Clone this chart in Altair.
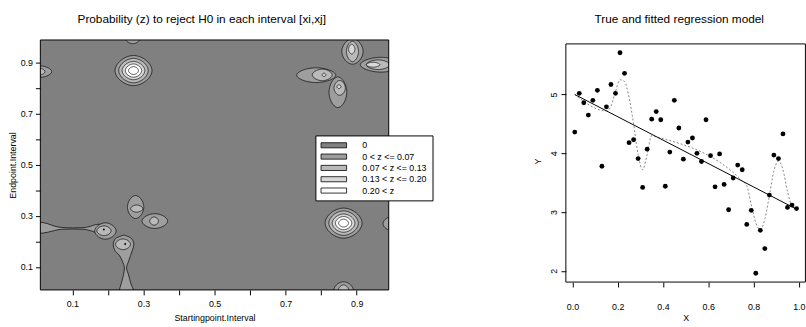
import altair as alt
import numpy as np
import pandas as pd

FONT = "Liberation Sans"

# ---------------- left panel : contour regions ----------------
LEVELS = ["0", "0 < z <= 0.07", "0.07 < z <= 0.13", "0.13 < z <= 0.20", "0.20 < z"]
LEVEL_COLORS = ["#808080", "#9e9e9e", "#bababa", "#d8d8d8", "#ffffff"]

grid_lo = 0.01
grid_hi = 0.99

# elliptical contour rings (centre, half-width, half-height, level index)
ring_cx = [0.272, 0.272, 0.272, 0.272, 0.272,
           0.863, 0.863, 0.863, 0.863, 0.863,
           0.270,
           0.006, 0.006,
           0.888, 0.888, 0.886,
           0.968, 0.960, 0.946,
           0.786, 0.803, 0.808,
           0.847, 0.852, 0.850,
           0.996,
           0.863, 0.863,
           0.278, 0.281,
           0.332, 0.330,
           0.193, 0.189,
           0.2425]
ring_cy = [0.870] * 5 + [0.272] * 5 + [0.9975] + [0.866] * 2 + [0.945, 0.945, 0.954] + \
          [0.893] * 3 + [0.852, 0.853, 0.853] + [0.785, 0.802, 0.807] + [0.270] + \
          [0.007] * 2 + [0.335, 0.329] + [0.280, 0.280] + [0.241, 0.242] + [0.189]
ring_rx = [0.052, 0.0415, 0.032, 0.023, 0.014] * 2 + [0.021] + [0.036, 0.017] + \
          [0.030, 0.017, 0.009] + [0.058, 0.033, 0.019] + [0.055, 0.028, 0.005] + \
          [0.025, 0.016, 0.0055] + [0.022] + [0.028, 0.015] + [0.023, 0.017] + \
          [0.036, 0.0124] + [0.030, 0.020] + [0.021]
ring_ry = [0.059, 0.048, 0.036, 0.026, 0.0155] * 2 + [0.022] + [0.023, 0.0135] + \
          [0.050, 0.040, 0.019] + [0.029, 0.019, 0.0097] + [0.029, 0.0226, 0.0066] + \
          [0.060, 0.029, 0.0077] + [0.026] + [0.035, 0.023] + [0.045, 0.014] + \
          [0.029, 0.016] + [0.032, 0.019] + [0.021]
ring_level = [1, 2, 3, 4, 4] * 2 + [1] + [1, 2] + [1, 2, 3] + [1, 2, 3] + [1, 2, 3] + \
             [1, 2, 3] + [1] + [1, 2] + [1, 2] + [1, 2] + [1, 2] + [2]

# band running in from the left edge (x, lower y, upper y)
band_x = [0.005, 0.03, 0.05, 0.07, 0.10, 0.13, 0.15, 0.165, 0.178]
band_lo = [0.231, 0.236, 0.243, 0.248, 0.249, 0.248, 0.243, 0.236, 0.232]
band_hi = [0.277, 0.270, 0.260, 0.255, 0.253, 0.254, 0.259, 0.266, 0.268]

# hour-glass region rising from the bottom edge (y, left x, right x)
hg_y = [0.004, 0.038, 0.070, 0.096, 0.122, 0.146, 0.166, 0.189, 0.212, 0.222, 0.225]
hg_xl = [0.231, 0.238, 0.244, 0.2465, 0.241, 0.232, 0.219, 0.215, 0.222, 0.238, 0.2445]
hg_xr = [0.274, 0.264, 0.258, 0.2525, 0.258, 0.264, 0.269, 0.273, 0.266, 0.252, 0.2455]

# local maxima marked with a dot
dot_x = [0.1886, 0.2486]
dot_y = [0.247, 0.190]

# ---------------- right panel : regression ----------------
obs_x = [0.01, 0.03, 0.05, 0.07, 0.09, 0.11, 0.13, 0.15, 0.17, 0.19,
         0.21, 0.23, 0.25, 0.27, 0.29, 0.31, 0.33, 0.35, 0.37, 0.39,
         0.41, 0.43, 0.45, 0.47, 0.49, 0.51, 0.53, 0.55, 0.57, 0.59,
         0.61, 0.63, 0.65, 0.67, 0.69, 0.71, 0.73, 0.75, 0.77, 0.79,
         0.81, 0.83, 0.85, 0.87, 0.89, 0.91, 0.93, 0.95, 0.97, 0.99]
obs_y = [4.36, 5.02, 4.86, 4.65, 4.90, 5.07, 3.78, 4.79, 5.17, 5.02,
         5.71, 5.36, 4.18, 4.23, 3.91, 3.42, 4.07, 4.58, 4.71, 4.57,
         3.44, 4.02, 4.90, 4.43, 3.90, 4.19, 4.26, 4.00, 3.86, 4.57,
         3.96, 3.43, 3.99, 3.47, 3.04, 3.58, 3.80, 3.72, 2.79, 3.03,
         1.96, 2.69, 2.38, 3.29, 3.97, 3.91, 4.33, 3.08, 3.12, 3.06]

true_x = [0.01, 0.99]
true_y = [5.00, 3.05]

fit_x = [0.01, 0.15, 0.17, 0.19, 0.21, 0.23, 0.25, 0.27, 0.29, 0.31, 0.33, 0.35, 0.37,
         0.75, 0.77, 0.79, 0.81, 0.83, 0.85, 0.87, 0.89, 0.91, 0.93, 0.95, 0.97, 0.99]
fit_y = [5.00, 4.72, 4.80, 5.05, 5.25, 5.22, 4.95, 4.50, 3.98, 3.72, 3.98, 4.30, 4.28,
         3.53, 3.45, 3.12, 2.82, 2.70, 2.88, 3.28, 3.70, 3.87, 3.72, 3.35, 3.10, 3.05]

# box of the regression panel (R's 4 % extended data range)
box_x = [-0.0292, 1.0292]
box_y = [1.81, 5.86]

# ---------------- build left panel ----------------
P = 1.8
theta = np.linspace(np.pi, 0, 61)
ex = np.sign(np.cos(theta)) * np.abs(np.cos(theta)) ** (2 / P)
ey = np.abs(np.sin(theta)) ** (2 / P)
rows = []
for i in range(len(ring_cx)):
    for k in range(len(theta)):
        rows.append({
            "ring": i,
            "lv": ring_level[i],
            "level": LEVELS[ring_level[i]],
            "x": ring_cx[i] + ring_rx[i] * ex[k],
            "y": ring_cy[i] - ring_ry[i] * ey[k],
            "y2": ring_cy[i] + ring_ry[i] * ey[k],
        })
rings = pd.DataFrame(rows)

xs_left = alt.Scale(domain=[grid_lo, grid_hi], nice=False, zero=False)
ys_left = alt.Scale(domain=[grid_lo, grid_hi], nice=False, zero=False)
fill_scale = alt.Scale(domain=LEVELS, range=LEVEL_COLORS)
legend = alt.Legend(
    orient="none", legendX=279.5, legendY=97, title=None,
    symbolType="M-3,-0.6H3V0.6H-3Z", symbolSize=75,
    symbolStrokeColor="black", symbolStrokeWidth=0.8, symbolOffset=8.7,
    labelOffset=24, labelFontSize=9, labelFont=FONT, labelColor="black",
    strokeColor="black", fillColor="white", padding=5, rowPadding=1.5,
    cornerRadius=0,
)
odd_lbl = "(round(datum.value*10) % 2 == 1) ? format(datum.value, '.1f') : ''"
tick_vals = [0.1, 0.2, 0.3, 0.4, 0.5, 0.6, 0.7, 0.8, 0.9]
x_left = alt.X("x:Q", scale=xs_left, axis=alt.Axis(
    values=tick_vals, labelExpr=odd_lbl, title="Startingpoint.Interval",
    tickSize=5, labelPadding=5, titlePadding=5, domain=False))
y_left = alt.Y("y:Q", scale=ys_left, axis=alt.Axis(
    values=tick_vals, labelExpr=odd_lbl, title="Endpoint.Interval",
    tickSize=5, labelPadding=3, titlePadding=3, domain=False))
fill_enc = alt.Fill("level:N", scale=fill_scale, legend=legend)

frame_left = pd.DataFrame({"x": [grid_lo], "x2": [grid_hi], "y": [grid_lo],
                           "y2": [grid_hi], "level": [LEVELS[0]]})
bg = alt.Chart(frame_left).mark_rect().encode(
    x=x_left, x2="x2:Q", y=y_left, y2="y2:Q", fill=fill_enc)

layers = [bg]
band_df = pd.DataFrame({"x": band_x, "y": band_lo, "y2": band_hi, "level": LEVELS[1]})
hg_df = pd.DataFrame({"y": hg_y, "x": hg_xl, "x2": hg_xr, "level": LEVELS[1]})
for lv in range(1, 5):
    sub = rings[rings["lv"] == lv]
    if lv == 1:
        layers.append(alt.Chart(band_df).mark_area(
            stroke="black", strokeWidth=0.7, clip=True, interpolate="monotone").encode(
            x=x_left, y=y_left, y2="y2:Q", fill=fill_enc))
        layers.append(alt.Chart(hg_df).mark_area(
            stroke="black", strokeWidth=0.7, clip=True, interpolate="monotone",
            orient="horizontal").encode(
            y=y_left, x=x_left, x2="x2:Q", fill=fill_enc))
    layers.append(alt.Chart(sub).mark_area(
        stroke="black", strokeWidth=0.7, clip=True).encode(
        x=x_left, y=y_left, y2="y2:Q", fill=fill_enc, detail="ring:N"))
layers.append(alt.Chart(pd.DataFrame({"x": dot_x, "y": dot_y})).mark_circle(
    size=4, color="black", opacity=1).encode(x=x_left, y=y_left))
layers.append(alt.Chart(frame_left).mark_rect(
    fillOpacity=0, stroke="black", strokeWidth=1).encode(
    x=x_left, x2="x2:Q", y=y_left, y2="y2:Q"))

left = alt.layer(*layers).properties(
    width=354, height=254,
    title=alt.TitleParams("Probability (z) to reject H0 in each interval [xi,xj]",
                          fontSize=12, font=FONT, fontWeight="normal", color="black",
                          anchor="middle", dx=-13, offset=14),
)

# ---------------- build right panel ----------------
xs_right = alt.Scale(domain=box_x, nice=False, zero=False)
ys_right = alt.Scale(domain=[box_y[0], box_y[1] + 0.067], nice=False, zero=False)
x_right = alt.X("x:Q", scale=xs_right, axis=alt.Axis(
    values=[0.0, 0.2, 0.4, 0.6, 0.8, 1.0], format=".1f", title="X",
    tickSize=5, labelPadding=16, titlePadding=2, domain=False))
y_right = alt.Y("y:Q", scale=ys_right, axis=alt.Axis(
    values=[2, 3, 4, 5], format="d", title="Y", labelAngle=-90,
    tickSize=5, labelPadding=3, titlePadding=7, domain=False))

frame_right = alt.Chart(pd.DataFrame({"x": [box_x[0]], "x2": [box_x[1]],
                                      "y": [box_y[0]], "y2": [box_y[1]]})).mark_rect(
    fillOpacity=0, stroke="black", strokeWidth=1).encode(
    x=x_right, x2="x2:Q", y=y_right, y2="y2:Q")
pts = alt.Chart(pd.DataFrame({"x": obs_x, "y": obs_y})).mark_circle(
    size=24, color="black", opacity=1).encode(x=x_right, y=y_right)
true_line = alt.Chart(pd.DataFrame({"x": true_x, "y": true_y})).mark_line(
    color="black", strokeWidth=1).encode(x=x_right, y=y_right)
fit_line = alt.Chart(pd.DataFrame({"x": fit_x, "y": fit_y})).mark_line(
    color="#666666", strokeWidth=0.8, strokeDash=[2, 2], interpolate="monotone").encode(
    x=x_right, y=y_right)

right = alt.layer(frame_right, fit_line, true_line, pts).properties(
    width=243.4, height=246,
    title=alt.TitleParams("True and fitted regression model",
                          fontSize=12, font=FONT, fontWeight="normal", color="black",
                          anchor="middle", dx=-6.5, offset=14),
)

chart = alt.hconcat(left, right, spacing=102).resolve_scale(
    x="independent", y="independent", fill="independent"
).resolve_legend(fill="independent").properties(
    padding={"left": 8, "top": 10, "right": 0, "bottom": 0},
    background="white",
).configure_view(strokeWidth=0).configure_axis(
    labelFont=FONT, titleFont=FONT, labelFontSize=9, titleFontSize=9,
    labelColor="black", titleColor="black", domainColor="black", tickColor="black",
    titleFontWeight="normal", grid=False,
)

chart.save("out.html", embed_options={"renderer": "svg", "actions": False})
